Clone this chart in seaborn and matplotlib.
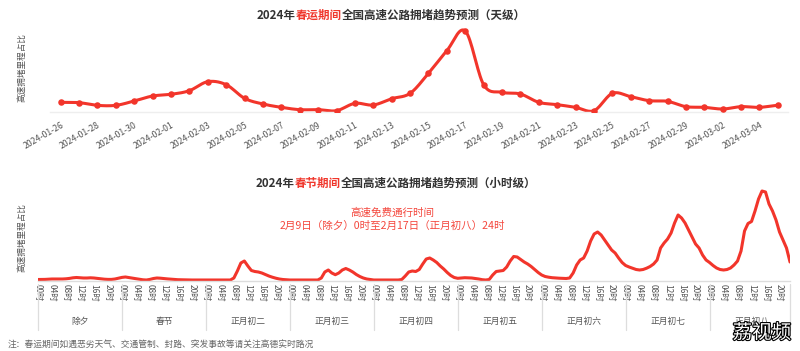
import numpy as np
import pandas as pd
import matplotlib
matplotlib.use("Agg")
import matplotlib.pyplot as plt
import seaborn as sns
from matplotlib import patheffects as pe
from matplotlib.transforms import blended_transform_factory

# ---------------- data ----------------
dates = pd.date_range("2024-01-26", "2024-03-05").strftime("%Y-%m-%d").tolist()
daily_values = [29, 28, 20, 20, 33, 48,
                53, 64, 91, 82, 41, 24, 14, 7, 7, 4,
                26, 21, 40, 56, 116, 184, 243, 82, 59, 54,
                29, 22, 14, 4, 56, 46, 34, 32, 16,
                14, 9, 16, 14, 20]

day_names = ["除夕", "春节", "正月初二", "正月初三", "正月初四",
             "正月初五", "正月初六", "正月初七", "正月初八"]
hourly_values = (
    [1.5, 1.5, 1.6, 1.8, 2, 2, 2, 2, 2.2, 2.6, 3.2, 3.5, 3.2, 3, 3, 3.2, 3, 2.6, 2.2, 1.8, 1.6, 1.6, 2, 2.8]
    + [3.6, 4, 3.4, 2.8, 2.3, 1.8, 1.2, 1, 1.6, 2.5, 3, 2.8, 2.4, 2.1, 1.8, 1.5, 1.3, 1.2, 1.1, 1, 1, 1, 1, 1]
    + [1, 1, 1, 1, 1, 1, 1, 1, 3, 10, 18, 20, 15, 10.5, 9.5, 9, 8, 6.5, 5, 3.8, 2.8, 2, 1.5, 1.2]
    + [1, 1, 1, 1, 1, 1, 1, 1, 1, 3, 9, 11, 8, 6.3, 8, 11, 12.5, 11, 9, 6.5, 4.5, 3, 2, 1.5]
    + [1, 1, 1, 1, 1, 1, 1, 1, 1.5, 5, 9, 10, 9.5, 11.5, 17, 22, 23, 21, 18.5, 15, 12, 8.5, 5.5, 3.5]
    + [2.7, 3, 3.3, 3.2, 3, 2.5, 2, 1.3, 1, 1.5, 6, 9.5, 10, 10.5, 14, 20, 24.5, 24, 21.5, 19, 17, 14.5, 11.5, 8.5]
    + [6, 4.5, 3.8, 3.3, 3, 2.8, 2.6, 2.5, 3, 8, 16, 21, 23, 30, 40, 47, 49, 46, 41, 36, 31, 28, 23, 18.5]
    + [15.5, 14, 12.7, 11.5, 11, 11.5, 12.8, 14.5, 17, 21, 33, 38, 42, 48, 58, 66, 63, 58, 51, 44, 37, 33, 26, 21]
    + [18.5, 15.5, 13, 11.5, 11, 11.5, 13, 16, 20, 30, 50, 57.5, 59.5, 70, 82, 90, 89, 77, 70, 61, 49, 41, 33, 19]
)

title1 = [("2024年", "#333333"), ("春运期间", "#f0372c"), ("全国高速公路拥堵趋势预测（天级）", "#333333")]
title2 = [("2024年", "#333333"), ("春节期间", "#f0372c"), ("全国高速公路拥堵趋势预测（小时级）", "#333333")]
note_lines = ["高速免费通行时间", "2月9日（除夕）0时至2月17日（正月初八）24时"]
ylabel = "高速拥堵里程占比"
footnote = "注：春运期间如遇恶劣天气、交通管制、封路、突发事故等请关注高德实时路况"
watermark = "荔视频"

RED = "#f2352b"
FONTS = ["Noto Sans CJK SC", "DejaVu Sans"]

sns.set_theme(style="white")
plt.rcParams["font.family"] = FONTS
plt.rcParams["axes.unicode_minus"] = False

W, H = 800, 351
fig = plt.figure(figsize=(W / 100, H / 100), dpi=100)
fig.patch.set_facecolor("white")


def fx(px):
    return px / W


def fy(py):
    return (H - py) / H


def smooth(y, n=16):
    y = np.asarray(y, float)
    xs, ys = [], []
    for i in range(len(y) - 1):
        p0 = y[i - 1] if i > 0 else y[i]
        p1, p2 = y[i], y[i + 1]
        p3 = y[i + 2] if i + 2 < len(y) else y[i + 1]
        t = np.linspace(0, 1, n, endpoint=False)
        v = 0.5 * ((2 * p1) + (-p0 + p2) * t + (2 * p0 - 5 * p1 + 4 * p2 - p3) * t ** 2
                   + (-p0 + 3 * p1 - 3 * p2 + p3) * t ** 3)
        xs.extend(i + t)
        ys.extend(v)
    xs.append(len(y) - 1)
    ys.append(y[-1])
    return np.array(xs), np.array(ys)


# ---------------- top chart ----------------
ax1 = fig.add_axes([fx(50), fy(112), fx(788) - fx(50), fy(28) - fy(112)])
df1 = pd.DataFrame({"idx": np.arange(len(dates)), "value": daily_values, "date": dates})
sx, sy = smooth(df1["value"].values)
sns.lineplot(x=sx, y=sy, ax=ax1, color=RED, linewidth=2.2, sort=False)
sns.scatterplot(data=df1, x="idx", y="value", ax=ax1, color=RED, s=22, edgecolor=RED, linewidth=0, zorder=5)
ax1.set_xlim(-0.58, 39.55)
ax1.set_ylim(0, 252)
ax1.set_xticks(df1["idx"].values[::2])
ax1.set_xticklabels(df1["date"].values[::2], rotation=30, ha="right", rotation_mode="anchor",
                    fontsize=6.3, color="#555555")
ax1.set_yticks([])
ax1.set_xlabel("")
ax1.set_ylabel("")
ax1.tick_params(axis="x", length=0, pad=6)
for s in ["top", "right", "left"]:
    ax1.spines[s].set_visible(False)
ax1.spines["bottom"].set_color("#eeeeee")
ax1.spines["bottom"].set_linewidth(1.0)
ax1.set_facecolor("none")

# ---------------- bottom chart ----------------
nh = len(hourly_values)
ax2 = fig.add_axes([fx(38), fy(281), fx(790) - fx(38), fy(185) - fy(281)])
df2 = pd.DataFrame({"hour": np.arange(nh), "value": hourly_values})
sns.lineplot(data=df2, x="hour", y="value", ax=ax2, color=RED, linewidth=2.2)
ax2.set_xlim(0, nh - 1)
ax2.set_ylim(0, 96)
hticks = np.arange(0, nh, 4)
ax2.set_xticks(hticks)
ax2.set_xticklabels([f"{h % 24:02d}时" for h in hticks], rotation=270, fontsize=6,
                    color="#555555", ha="center", va="top")
ax2.set_yticks([])
ax2.set_xlabel("")
ax2.set_ylabel("")
ax2.tick_params(axis="x", length=0, pad=2)
for s in ["top", "right", "left"]:
    ax2.spines[s].set_visible(False)
ax2.spines["bottom"].set_color("#dddddd")
ax2.spines["bottom"].set_linewidth(1.0)
ax2.set_facecolor("none")

tr = blended_transform_factory(ax2.transData, ax2.transAxes)
bounds = [24 * k for k in range(len(day_names))] + [nh - 1]
for b in bounds:
    ax2.plot([b, b], [-0.03, -0.51], transform=tr, color="#dddddd", lw=0.9, clip_on=False)
for k, name in enumerate(day_names):
    ax2.text(24 * k + 12, -0.425, name, transform=tr, ha="center", va="center",
             fontsize=6.3, color="#555555")


# ---------------- texts ----------------
def rich_text(xc_px, yc_px, parts, **kw):
    r = fig.canvas.get_renderer()
    texts = [fig.text(0, fy(yc_px), s, color=c, ha="left", va="center", **kw) for s, c in parts]
    widths = [t.get_window_extent(r).width for t in texts]
    x = xc_px - sum(widths) / 2
    for t, w in zip(texts, widths):
        t.set_x(fx(x))
        x += w


rich_text(391, 15, title1, fontsize=8.3, fontweight="bold")
rich_text(396, 183, title2, fontsize=8.3, fontweight="bold")

fig.text(fx(392), fy(213), note_lines[0], ha="center", va="center", fontsize=7.6, color="#f4473d")
fig.text(fx(392), fy(226), note_lines[1], ha="center", va="center", fontsize=7.6, color="#f4473d")

fig.text(fx(22), fy(67), ylabel, rotation=90, ha="center", va="center", fontsize=6.2, color="#555555")
fig.text(fx(22), fy(237), ylabel, rotation=90, ha="center", va="center", fontsize=6.2, color="#555555")

fig.text(fx(8), fy(345), footnote, ha="left", va="center", fontsize=6.3, color="#666666")

fig.text(fx(762), fy(333), watermark, ha="center", va="center", fontsize=14, color="white",
         path_effects=[pe.withStroke(linewidth=1.6, foreground="black")])

fig.savefig("out.png", dpi=100, facecolor="white")
